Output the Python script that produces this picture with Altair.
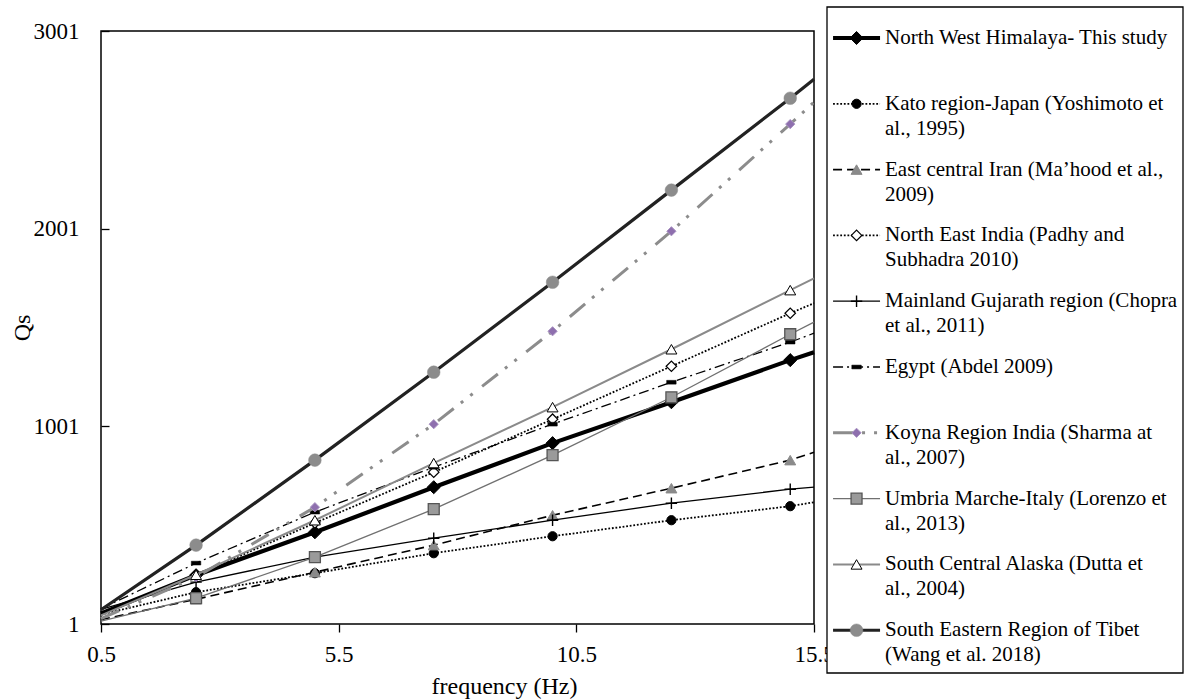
import altair as alt
import pandas as pd

# ---------------- data ----------------
freq = [0.5, 2.5, 5, 7.5, 10, 12.5, 15, 15.5]

q_nw_himalaya = [55, 248, 465, 693, 916, 1123, 1336, 1376]
q_kato_japan = [49, 162, 258, 359, 445, 526, 597, 617]
q_iran = [23, 126, 263, 400, 551, 688, 830, 870]
q_ne_india = [47, 248, 512, 769, 1037, 1305, 1573, 1624]
q_gujarat = [75, 213, 339, 435, 526, 612, 683, 693]
q_egypt = [78, 309, 567, 794, 1012, 1224, 1427, 1472]
q_koyna = [28, 238, 592, 1012, 1482, 1988, 2530, 2641]
q_umbria = [15, 132, 339, 582, 855, 1148, 1467, 1528]
q_alaska = [45, 250, 526, 815, 1098, 1391, 1690, 1750]
q_tibet = [73, 400, 830, 1275, 1730, 2196, 2661, 2757]

legend_lines = [
    ["North West Himalaya- This study"],
    ["Kato region-Japan (Yoshimoto et", "al., 1995)"],
    ["East central Iran (Ma\u2019hood et al.,", "2009)"],
    ["North East India (Padhy and", "Subhadra 2010)"],
    ["Mainland Gujarath region (Chopra", "et al., 2011)"],
    ["Egypt (Abdel 2009)"],
    ["Koyna Region India (Sharma at", "al., 2007)"],
    ["Umbria Marche-Italy (Lorenzo et", "al., 2013)"],
    ["South Central Alaska  (Dutta et", "al., 2004)"],
    ["South Eastern Region of Tibet", "(Wang et al. 2018)"],
]

series_values = [q_nw_himalaya, q_kato_japan, q_iran, q_ne_india, q_gujarat,
                 q_egypt, q_koyna, q_umbria, q_alaska, q_tibet]
series_names = [" ".join(l) for l in legend_lines]

x_ticks = [0.5, 5.5, 10.5, 15.5]
y_ticks = [1, 1001, 2001, 3001]

# ---------------- styles ----------------
PLUS = "M-1,0H1M0,-1V1"
BAR = "M-1,-0.4H1V0.4H-1Z"
styles = [
    dict(color="#000000", width=4.2, shape="diamond", size=170, fill="#000000", stroke="#000000", sw=1, filled=True),
    dict(color="#000000", width=1.8, dash=[1.8, 1.8], shape="circle", size=85, fill="#000000", stroke="#000000", sw=1, filled=True),
    dict(color="#000000", width=1.6, dash=[9, 5], shape="triangle-up", size=120, fill="#8a8a8a", stroke="#8a8a8a", sw=1, filled=True),
    dict(color="#000000", width=1.8, dash=[1.8, 1.8], shape="diamond", size=110, fill="#ffffff", stroke="#000000", sw=1.2, filled=True),
    dict(color="#000000", width=1.3, shape=PLUS, size=130, fill="#000000", stroke="#000000", sw=1.4, filled=False),
    dict(color="#000000", width=1.3, dash=[10, 4, 2, 4], shape=BAR, size=90, fill="#000000", stroke="#000000", sw=0.5, filled=True),
    dict(color="#8c8c8c", width=3, dash=[20, 9, 3, 9, 3, 12], shape="diamond", size=85, fill="#8e6fae", stroke="#a993c2", sw=1, filled=True),
    dict(color="#707070", width=1.3, shape="square", size=120, fill="#9a9a9a", stroke="#555555", sw=1.3, filled=True),
    dict(color="#8a8a8a", width=2, shape="triangle-up", size=120, fill="#ffffff", stroke="#000000", sw=1, filled=True),
    dict(color="#222222", width=3.2, shape="circle", size=160, fill="#8c8c8c", stroke="#8c8c8c", sw=0.5, filled=True),
]

FONT = "Liberation Serif"

# ---------------- main plot ----------------
x_enc = alt.X(
    "f:Q",
    scale=alt.Scale(domain=[0.5, 15.5], nice=False, zero=False),
    axis=alt.Axis(values=x_ticks, format=".1f", title="frequency (Hz)", tickSize=8,
                  labelPadding=11, domain=False, grid=False, labelFlush=False,
                  labelOverlap=False, titleX=403, titleY=69, titleAlign="center",
                  titleBaseline="alphabetic"),
)
y_enc = alt.Y(
    "Q:Q",
    scale=alt.Scale(domain=[1, 3001], nice=False, zero=False),
    axis=alt.Axis(values=y_ticks, format="d", title="Qs", tickSize=8, offset=-8,
                  labelPadding=22, domain=False, grid=False, labelFlush=False,
                  labelOverlap=False, titleX=-87, titleY=296.5, titleBaseline="middle"),
)


def mark_kwargs_line(st):
    kw = dict(color=st["color"], strokeWidth=st["width"], clip=False)
    if "dash" in st:
        kw["strokeDash"] = st["dash"]
    return kw


def mark_kwargs_point(st):
    kw = dict(shape=st["shape"], size=st["size"], filled=st["filled"], stroke=st["stroke"],
              strokeWidth=st["sw"], opacity=1)
    if st["filled"]:
        kw["fill"] = st["fill"]
    return kw


data_layers = []
for name, vals, st in zip(series_names, series_values, styles):
    df = pd.DataFrame({"f": freq, "Q": vals, "series": name})
    line = alt.Chart(df).mark_line(**mark_kwargs_line(st)).encode(x=x_enc, y=y_enc)
    pts = alt.Chart(df.iloc[1:-1]).mark_point(**mark_kwargs_point(st)).encode(x=x_enc, y=y_enc)
    data_layers += [line, pts]

main = alt.layer(*data_layers)

# ---------------- legend panel ----------------
LEG_TOP, LEG_BOTTOM = -0.471, 9.65
lx_scale = alt.Scale(domain=[0, 1], range=[726, 1082], nice=False, zero=False)
ly_scale = alt.Scale(domain=[LEG_TOP, LEG_BOTTOM], range=[-24, 642], nice=False, zero=False)


def lx(field="lx"):
    return alt.X(f"{field}:Q", scale=lx_scale, axis=None)


def ly(field="ly"):
    return alt.Y(f"{field}:Q", scale=ly_scale, axis=None)


box_df = pd.DataFrame({"lx": [0], "lx2": [1], "ly": [LEG_TOP], "ly2": [LEG_BOTTOM]})
box = alt.Chart(box_df).mark_rect(fill="white", stroke="black", strokeWidth=1.3).encode(
    x=lx(), x2="lx2:Q", y=ly(), y2="ly2:Q")

legend_layers = [box]
text_rows = []
for i, (lines, st) in enumerate(zip(legend_lines, styles)):
    ldf = pd.DataFrame({"lx": [0.017], "lx2": [0.149], "ly": [i]})
    legend_layers.append(
        alt.Chart(ldf).mark_rule(**mark_kwargs_line(st)).encode(x=lx(), x2="lx2:Q", y=ly()))
    pdf = pd.DataFrame({"lx": [0.083], "ly": [i]})
    legend_layers.append(
        alt.Chart(pdf).mark_point(**mark_kwargs_point(st)).encode(x=lx(), y=ly()))
    for j, t in enumerate(lines):
        text_rows.append({"lx": 0.163, "ly": i + j * 0.38, "t": t})

text_df = pd.DataFrame(text_rows)
legend_layers.append(
    alt.Chart(text_df).mark_text(align="left", baseline="middle", font=FONT, fontSize=21,
                                 color="black").encode(x=lx(), y=ly(), text="t:N"))

legend = alt.layer(*legend_layers)

chart = (
    alt.layer(main, legend)
    .resolve_scale(x="independent", y="independent")
    .properties(width=713, height=593, background="white",
                autosize=alt.AutoSizeParams(type="none"),
                padding={"left": 101, "top": 31, "right": 371, "bottom": 76})
    .configure_view(stroke="black", strokeWidth=1.5)
    .configure_axis(labelFont=FONT, titleFont=FONT, labelFontSize=23, titleFontSize=24,
                    labelColor="black", titleColor="black", tickColor="black",
                    tickWidth=1.3, titleFontWeight="normal")
)

chart.save("out.html", embed_options={"renderer": "svg", "actions": False})
